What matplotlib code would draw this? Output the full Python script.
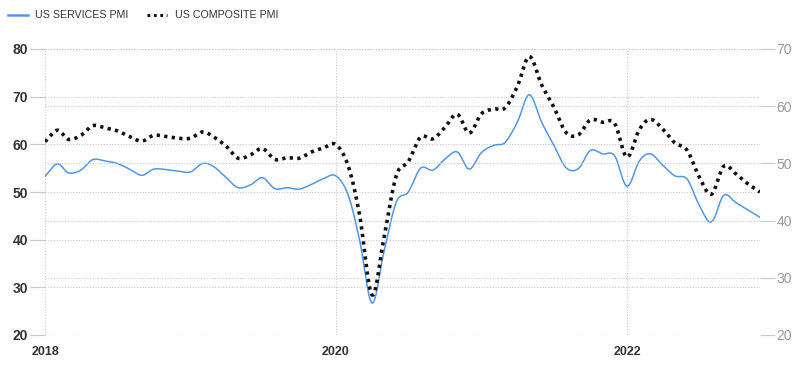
import numpy as np
import pandas as pd
import matplotlib
matplotlib.use("Agg")
import matplotlib.pyplot as plt
import matplotlib.dates as mdates
from matplotlib.lines import Line2D

plt.rcParams['font.family'] = ['Liberation Sans', 'DejaVu Sans']

months = pd.date_range("2018-01-01", "2022-12-01", freq="MS")

services_pmi = [
    53.3, 55.9, 54.0, 54.6, 56.8, 56.5, 56.0, 54.8, 53.5, 54.8, 54.7, 54.4,
    54.2, 56.0, 55.3, 53.0, 50.9, 51.5, 53.0, 50.7, 50.9, 50.6, 51.6, 52.8,
    53.4, 49.4, 39.8, 26.7, 37.5, 47.9, 50.0, 55.0, 54.6, 56.9, 58.4, 54.8,
    58.3, 59.8, 60.4, 64.7, 70.4, 64.6, 59.9, 55.1, 54.9, 58.7, 58.0, 57.6,
    51.2, 56.5, 58.0, 55.6, 53.4, 52.7, 47.3, 43.7, 49.3, 47.8, 46.2, 44.7,
]
composite_pmi = [
    53.8, 55.8, 54.2, 54.9, 56.6, 56.2, 55.7, 54.7, 53.9, 54.9, 54.7, 54.4,
    54.4, 55.5, 54.6, 53.0, 50.9, 51.5, 52.6, 50.7, 51.0, 50.9, 52.0, 52.7,
    53.3, 49.6, 40.9, 27.0, 37.0, 47.9, 50.3, 54.6, 54.3, 56.3, 58.6, 55.3,
    58.7, 59.5, 59.7, 63.5, 68.7, 63.7, 59.9, 55.4, 55.0, 57.6, 57.2, 57.0,
    51.1, 55.9, 57.7, 56.0, 53.6, 52.3, 47.7, 44.6, 49.5, 48.2, 46.4, 45.0,
]
series_names = ["US SERVICES PMI", "US COMPOSITE PMI"]
year_ticks = ["2018", "2020", "2022"]
left_ticks = [20, 30, 40, 50, 60, 70, 80]
right_ticks = [20, 30, 40, 50, 60, 70]


def smooth(x, y, n=12):
    """Catmull-Rom rendering of the monthly points (curve passes through each value)."""
    x = np.asarray(x, float)
    y = np.asarray(y, float)
    px = np.concatenate([[2 * x[0] - x[1]], x, [2 * x[-1] - x[-2]]])
    py = np.concatenate([[2 * y[0] - y[1]], y, [2 * y[-1] - y[-2]]])
    xs, ys = [], []
    t = np.linspace(0, 1, n, endpoint=False)

    def f(a0, a1, a2, a3):
        return 0.5 * ((2 * a1) + (-a0 + a2) * t +
                      (2 * a0 - 5 * a1 + 4 * a2 - a3) * t ** 2 +
                      (-a0 + 3 * a1 - 3 * a2 + a3) * t ** 3)

    for i in range(1, len(px) - 2):
        xs.append(f(px[i - 1], px[i], px[i + 1], px[i + 2]))
        ys.append(f(py[i - 1], py[i], py[i + 1], py[i + 2]))
    xs.append([x[-1]])
    ys.append([y[-1]])
    return np.concatenate(xs), np.concatenate(ys)


xnum = mdates.date2num(months)

W, H = 800, 368
fig = plt.figure(figsize=(8, 3.68), dpi=100)
ax = fig.add_axes([45 / W, 1 - 335 / H, 715 / W, (335 - 49) / H])
ax2 = ax.twinx()

blue = "#5296e6"
dark = "#111111"
grid_col = "#c8c8c8"
dot_ls = (0, (0.9, 1.2))

sx, sy = smooth(xnum, services_pmi)
ax.plot(sx, sy, color=blue, lw=1.1, zorder=3)
cx, cy = smooth(xnum, composite_pmi)
ax2.plot(cx, cy, color=dark, lw=2.6, ls=dot_ls, zorder=3)

ax.set_xlim(xnum[0], xnum[-1])
ax.set_ylim(20, 80)
ax2.set_ylim(20, 70)

ax.set_yticks(left_ticks)
ax2.set_yticks(right_ticks)
xt = [mdates.date2num(pd.Timestamp(f"{y}-01-01")) for y in year_ticks]
ax.set_xticks(xt)
ax.set_xticklabels(year_ticks)

for a in (ax, ax2):
    for s in a.spines.values():
        s.set_visible(False)

ax.grid(True, axis="both", color=grid_col, ls=(0, (1, 1.5)), lw=0.8)
ax2.grid(True, axis="y", color=grid_col, ls=(0, (1, 1.5)), lw=0.8)
ax.set_axisbelow(True)

ax.tick_params(axis="y", length=11, color=grid_col, width=0.8, pad=1,
               labelsize=10, labelcolor="#333333")
for lab in ax.get_yticklabels():
    lab.set_fontweight("bold")
ax2.tick_params(axis="y", length=11, color=grid_col, width=0.8, pad=1,
                labelsize=10, labelcolor="#999999")
ax.tick_params(axis="x", length=0, pad=8, labelsize=9, labelcolor="#333333")
for lab in ax.get_xticklabels():
    lab.set_fontweight("bold")

# legend (manual placement to match reference)
ly = 1 - 15 / H
fig.add_artist(Line2D([8 / W, 28 / W], [ly, ly], transform=fig.transFigure,
                      color=blue, lw=1.8))
fig.text(35 / W, ly, series_names[0], fontsize=7.7, color="#333344",
         va="center", ha="left")
fig.add_artist(Line2D([147 / W, 167 / W], [ly, ly], transform=fig.transFigure,
                      color=dark, lw=2.2, ls=dot_ls))
fig.text(175 / W, ly, series_names[1], fontsize=7.7, color="#333344",
         va="center", ha="left")

fig.savefig("out.png", dpi=100)
